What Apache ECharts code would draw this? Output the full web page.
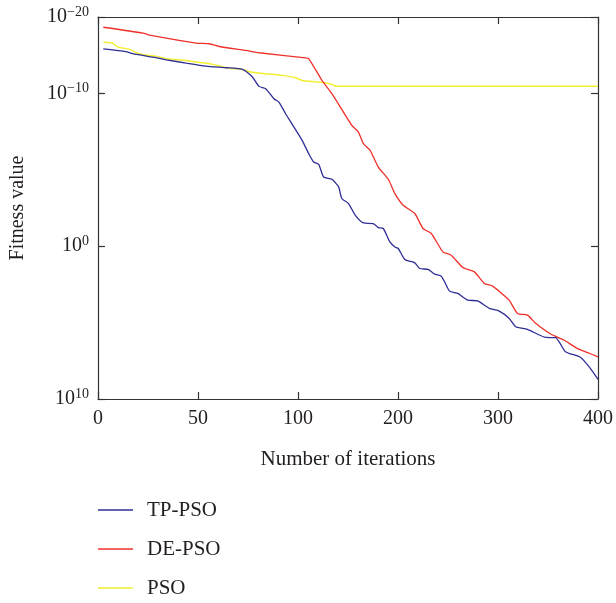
<!DOCTYPE html>
<html>
<head>
<meta charset="utf-8">
<script src="https://cdn.jsdelivr.net/npm/echarts@6/dist/echarts.min.js"></script>
<style>html,body{margin:0;padding:0;background:#fff}#c{width:616px;height:603px}</style>
</head>
<body>
<div id="c"></div>
<script>
// x positions along the axis (axis units 0..500, tick every 100) and tick labels as printed
var xTickLabels = ['0', '50', '100', '200', '300', '400'];
// y: log10 exponent positions of ticks and printed labels
var yTickPos = [-15, -10, 0, 10];
var yTickExp = ['\u221220', '\u221210', '0', '10'];

var seriesNames = ['TP-PSO', 'DE-PSO', 'PSO'];

var tpX = [5.3, 25.1, 38.5, 55.0, 68.3, 88.2, 108.1, 127.9, 144.4, 154.4, 161.0, 167.7, 175.9, 180.9, 187.6, 193.5, 204.1, 210.7, 215.7, 220.7, 225.6, 233.9, 240.6, 243.8, 250.5, 257.2, 265.4, 275.3, 280.3, 285.3, 291.9, 296.9, 300.2, 306.9, 316.8, 321.8, 330.0, 336.7, 343.2, 346.6, 351.6, 359.8, 369.8, 379.7, 391.4, 401.3, 411.2, 417.8, 429.4, 447.6, 457.6, 467.5, 482.4, 492.3, 500];
var tpY = [-12.92, -12.76, -12.55, -12.37, -12.20, -11.98, -11.78, -11.68, -11.57, -11.07, -10.46, -10.31, -9.65, -9.43, -8.67, -8.05, -6.93, -6.06, -5.51, -5.36, -4.53, -4.38, -3.88, -3.12, -2.79, -2.03, -1.52, -1.48, -1.22, -1.16, -0.28, 0.05, 0.15, 0.87, 1.09, 1.46, 1.52, 1.83, 1.96, 2.33, 2.94, 3.09, 3.53, 3.58, 4.07, 4.25, 4.73, 5.27, 5.44, 5.97, 5.99, 6.91, 7.27, 7.99, 8.71];

var deX = [5.3, 45.0, 51.7, 98.1, 111.3, 121.3, 147.8, 161.0, 207.5, 210.7, 224.0, 233.9, 253.8, 260.4, 265.4, 272.1, 280.3, 290.3, 296.9, 305.2, 316.8, 325.0, 333.3, 344.9, 353.2, 364.8, 376.4, 386.4, 394.6, 402.9, 411.2, 419.5, 429.4, 437.7, 452.6, 465.9, 479.1, 489.1, 500];
var deY = [-14.33, -13.94, -13.81, -13.29, -13.25, -13.07, -12.81, -12.66, -12.33, -12.27, -10.85, -9.98, -7.91, -7.47, -6.71, -6.27, -5.18, -4.38, -3.44, -2.68, -2.14, -1.16, -0.83, 0.37, 0.59, 1.39, 1.68, 2.44, 2.61, 3.05, 3.53, 4.40, 4.51, 5.05, 5.75, 6.14, 6.69, 6.95, 7.24];

var psoX = [5.3, 13.6, 20.2, 31.8, 38.5, 45.0, 58.3, 68.3, 81.5, 98.1, 114.6, 131.2, 144.4, 151.1, 167.7, 184.2, 197.5, 204.1, 220.7, 233.9, 238.9, 500];
var psoY = [-13.35, -13.31, -13.03, -12.88, -12.66, -12.53, -12.44, -12.27, -12.20, -12.05, -11.90, -11.65, -11.57, -11.42, -11.29, -11.18, -11.03, -10.85, -10.74, -10.59, -10.46, -10.46];

var colors = ['#2e2e96', '#f0302a', '#f2ee30'];

function zip(xs, ys) { return xs.map(function (x, i) { return [x, ys[i]]; }); }

var FONT = "'Liberation Serif', 'DejaVu Serif', serif";
var TXT = '#231f20';
var AX = '#333';

var chart = echarts.init(document.getElementById('c'), null, { renderer: 'canvas' });

function yLabel(v) {
  var i = yTickPos.indexOf(v);
  if (i < 0) return '';
  return '{b|10}{s|' + yTickExp[i] + '}';
}

var option = {
  animation: false,
  backgroundColor: '#fff',
  color: colors,
  grid: { left: 98, right: 15, top: 17, bottom: 204, containLabel: false },
  xAxis: [{
    type: 'value', min: 0, max: 500, interval: 100, position: 'bottom',
    name: 'Number of iterations', nameLocation: 'middle', nameGap: 50,
    nameTextStyle: { fontFamily: FONT, fontSize: 21, color: TXT },
    axisLine: { show: true, onZero: false, lineStyle: { color: AX, width: 1.2 } },
    axisTick: { show: true, inside: true, length: 7, lineStyle: { color: AX, width: 1.2 } },
    axisLabel: { fontFamily: FONT, fontSize: 20, color: TXT, margin: 10,
      formatter: function (v) { return xTickLabels[Math.round(v / 100)]; } },
    splitLine: { show: false }
  }, {
    type: 'value', min: 0, max: 500, interval: 100, position: 'top',
    axisLine: { show: true, onZero: false, lineStyle: { color: AX, width: 1.2 } },
    axisTick: { show: true, inside: true, length: 7, lineStyle: { color: AX, width: 1.2 } },
    axisLabel: { show: false }, splitLine: { show: false }
  }],
  yAxis: [{
    type: 'value', inverse: true, min: -15, max: 10, position: 'left',
    name: 'Fitness value', nameLocation: 'middle', nameGap: 70, nameRotate: 90,
    nameTextStyle: { fontFamily: FONT, fontSize: 20, color: TXT },
    axisLine: { show: true, onZero: false, lineStyle: { color: AX, width: 1.2 } },
    axisTick: { show: true, inside: true, length: 7, customValues: yTickPos, lineStyle: { color: AX, width: 1.2 } },
    axisLabel: { margin: 9, customValues: yTickPos, formatter: yLabel,
      rich: {
        b: { fontFamily: FONT, fontSize: 20, color: TXT },
        s: { fontFamily: FONT, fontSize: 14, color: TXT, padding: [0, 0, 10, 0] }
      } },
    splitLine: { show: false }
  }, {
    type: 'value', inverse: true, min: -15, max: 10, position: 'right',
    axisLine: { show: true, onZero: false, lineStyle: { color: AX, width: 1.2 } },
    axisTick: { show: true, inside: true, length: 7, customValues: yTickPos, lineStyle: { color: AX, width: 1.2 } },
    axisLabel: { show: false, customValues: yTickPos }, splitLine: { show: false }
  }],
  legend: {
    orient: 'vertical', left: 98, top: 499, itemGap: 17, padding: 0,
    icon: 'rect', itemWidth: 35, itemHeight: 1.5,
    textStyle: { fontFamily: FONT, fontSize: 21, color: TXT, lineHeight: 22, padding: [0, 0, 0, 9] },
    data: seriesNames
  },
  series: [
    { name: seriesNames[0], type: 'line', data: zip(tpX, tpY), showSymbol: false, smooth: 0.2, lineStyle: { width: 1.3, color: colors[0] }, itemStyle: { color: colors[0] }, z: 3 },
    { name: seriesNames[1], type: 'line', data: zip(deX, deY), showSymbol: false, smooth: 0.2, lineStyle: { width: 1.3, color: colors[1] }, itemStyle: { color: colors[1] }, z: 2 },
    { name: seriesNames[2], type: 'line', data: zip(psoX, psoY), showSymbol: false, smooth: 0.2, lineStyle: { width: 1.5, color: colors[2] }, itemStyle: { color: colors[2] }, z: 1 }
  ]
};
chart.setOption(option);
</script>
</body>
</html>
